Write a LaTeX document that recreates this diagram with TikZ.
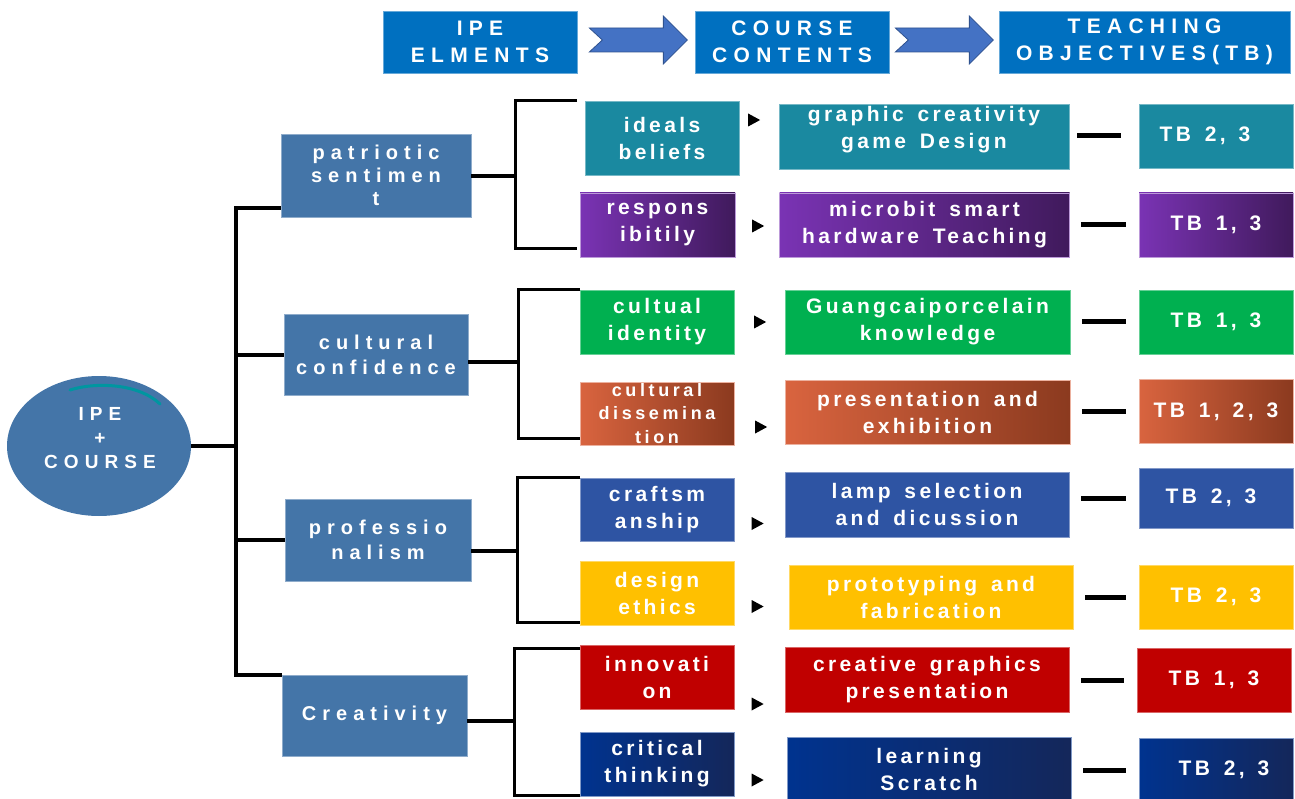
\documentclass[tikz,border=0pt]{standalone}
\usepackage{fontspec}
\setmainfont{Liberation Sans}
\newfontfamily\hdrfam{Liberation Sans}[LetterSpace=30]
\newfontfamily\lvonefam{Liberation Sans}[LetterSpace=30]
\newfontfamily\ellfam{Liberation Sans}[LetterSpace=32]
\newfontfamily\lvtwofam{Liberation Sans}[LetterSpace=16, WordSpace=1.5]
\newfontfamily\smallfam{Liberation Sans}[LetterSpace=20]
\newcommand\tbcomma{,\hspace{13pt}}
\usetikzlibrary{shapes.geometric}

\definecolor{hdrblue}{RGB}{0,112,192}
\definecolor{arrowblue}{RGB}{68,114,196}
\definecolor{arrowedge}{RGB}{47,82,143}
\definecolor{steel}{RGB}{68,117,168}
\definecolor{arcteal}{RGB}{0,150,160}
\definecolor{tealc}{RGB}{26,137,160}
\definecolor{purpL}{RGB}{122,51,180}
\definecolor{purpR}{RGB}{64,26,92}
\definecolor{greenc}{RGB}{0,176,80}
\definecolor{orgL}{RGB}{217,100,63}
\definecolor{orgR}{RGB}{139,58,31}
\definecolor{craftblue}{RGB}{46,84,163}
\definecolor{yellowc}{RGB}{255,192,0}
\definecolor{redc}{RGB}{192,0,0}
\definecolor{navyL}{RGB}{0,51,143}
\definecolor{navyR}{RGB}{20,39,90}

\tikzset{
  box/.style={rectangle, inner sep=0pt, text=white, align=center},
  flat/.style={box, fill=#1, draw=#1!60!white, line width=0.7pt},
  grad/.style 2 args={box, left color=#1, right color=#2, draw=#1!50!white, line width=0.7pt},
  sz/.style 2 args={minimum width=#1pt, minimum height=#2pt},
  hdrtext/.style={font=\hdrfam\bfseries\fontsize{21}{27}\selectfont},
  lvone/.style={flat=steel, font=\lvonefam\bfseries\fontsize{20}{25}\selectfont},
  lvtwo/.style={font=\lvtwofam\bfseries\fontsize{21}{27}\selectfont},
  harrow/.style={fill=arrowblue, draw=arrowedge, line width=0.8pt},
  trunk/.style={draw=black, line width=4pt},
  brk/.style={draw=black, line width=3pt},
  tri/.style={isosceles triangle, isosceles triangle stretches, fill=black,
    minimum width=13pt, minimum height=12pt, inner sep=0pt},
  tbline/.style={draw=black, line width=5pt, shorten <=12pt, shorten >=13pt},
}

\begin{document}
\begin{tikzpicture}[x=1pt, y=-1pt]
\useasboundingbox (0,0) rectangle (1295,799);

% header row
\node[flat=hdrblue, sz={194}{62}, hdrtext] (h1) at (480,42) {IPE\\ELMENTS};
\node[flat=hdrblue, sz={194}{62}, hdrtext] (h2) at (792,42) {COURSE\\CONTENTS};
\node[flat=hdrblue, sz={291}{62}, hdrtext] (h3) at (1144.5,42) {TEACHING\\OBJECTIVES(TB)};
\filldraw[harrow] ([xshift=12pt, yshift=2pt]h1.east) ++(0,-12) -- ++(74,0) -- ++(0,-12)
  -- ++(24,24) -- ++(-24,24) -- ++(0,-12) -- ++(-74,0) -- ++(13,-12) -- cycle;
\filldraw[harrow] ([xshift=6pt, yshift=2pt]h2.east) ++(0,-12) -- ++(74,0) -- ++(0,-12)
  -- ++(24,24) -- ++(-24,24) -- ++(0,-12) -- ++(-74,0) -- ++(13,-12) -- cycle;

% root
\node[ellipse, fill=steel, minimum width=184pt, minimum height=140pt, inner sep=0pt] (ell) at (99,446) {};
\draw[arcteal, line width=3pt, line cap=round] (70,390) .. controls (95,382) and (138,383) .. (160,404);
\node[text=white, align=center, font=\ellfam\bfseries\fontsize{19}{24}\selectfont] (elltxt) at (100,438) {IPE\\+\\COURSE};

% first level
\node[lvone, sz={190}{83}, font=\lvonefam\bfseries\fontsize{20}{23}\selectfont] (p1) at (376,175.5) {patriotic\\sentimen\\t};
\node[lvone, sz={184}{81}] (p2) at (376,354.5) {cultural\\confidence};
\node[lvone, sz={186}{82}] (p3) at (378,540) {professio\\nalism};
\node[lvone, sz={185}{81}] (p4) at (374.5,715.5) {Creativity};

\coordinate (tt) at (236,208);
\coordinate (tb) at (236,675);
\draw[trunk] (ell.east) -- (ell.east -| tt);
\draw[trunk] (p1.west |- tt) -- (tt) -- (tb) -- (p4.west |- tb);
\draw[trunk] (p2.west) -- (p2.west -| tt);
\draw[trunk] (p3.west) -- (p3.west -| tt);

% second level
\node[flat=tealc, sz={154}{74}, lvtwo] (l1) at (662,138) {ideals\\beliefs};
\node[grad={purpL}{purpR}, sz={155}{64}, lvtwo] (l2) at (657.5,225) {respons\\ibitily};
\node[flat=greenc, sz={154}{64}, lvtwo] (l3) at (657,322) {cultual\\identity};
\node[grad={orgL}{orgR}, sz={154}{63}, font=\smallfam\bfseries\fontsize{18}{23.5}\selectfont] (l4) at (657,413.5) {cultural\\dissemina\\tion};
\node[flat=craftblue, sz={154}{63}, lvtwo] (l5) at (657,509.5) {craftsm\\anship};
\node[flat=yellowc, sz={154}{64}, lvtwo] (l6) at (657,593.5) {design\\ethics};
\node[flat=redc, sz={154}{64}, lvtwo] (l7) at (657,677) {innovati\\on};
\node[grad={navyL}{navyR}, sz={154}{64}, lvtwo] (l8) at (657,764) {critical\\thinking};

% brackets from first to second level
\coordinate (b1) at (515,176);
\coordinate (g1t) at (577,101);
\coordinate (g1b) at (577,249);
\draw[trunk] (p1.east |- b1) -- (b1);
\draw[brk] (g1t) -| (b1) |- (g1b);

\coordinate (b2) at (518,362);
\coordinate (g2t) at (580,290);
\coordinate (g2b) at (580,438);
\draw[trunk] (p2.east |- b2) -- (b2);
\draw[brk] (g2t) -| (b2) |- (g2b);

\coordinate (b3) at (517,551);
\coordinate (g3t) at (580,477);
\coordinate (g3b) at (580,622);
\draw[trunk] (p3.east |- b3) -- (b3);
\draw[brk] (g3t) -| (b3) |- (g3b);

\coordinate (b4) at (514,721);
\coordinate (g4t) at (580,648);
\coordinate (g4b) at (580,795);
\draw[trunk] (p4.east |- b4) -- (b4);
\draw[brk] (g4t) -| (b4) |- (g4b);

% pointers
\node[tri] (m1) at (752,120) {};
\node[tri] (m2) at (756,226) {};
\node[tri] (m3) at (758,322) {};
\node[tri] (m4) at (759,427) {};
\node[tri] (m5) at (755.5,523.5) {};
\node[tri] (m6) at (755.5,606.5) {};
\node[tri] (m7) at (755.5,704) {};
\node[tri] (m8) at (755.5,780) {};

% course contents
\node[flat=tealc, sz={290}{65}, lvtwo] (c1) at (924,136.5) {graphic creativity\\game Design\\[-8pt]};
\node[grad={purpL}{purpR}, sz={290}{64}, lvtwo] (c2) at (924.5,225) {microbit smart\\hardware Teaching};
\node[flat=greenc, sz={285}{64}, lvtwo] (c3) at (927.5,322) {Guangcaiporcelain\\knowledge};
\node[grad={orgL}{orgR}, sz={285}{64}, lvtwo] (c4) at (927.5,412) {presentation and\\exhibition};
\node[flat=craftblue, sz={284}{65}, lvtwo] (c5) at (927,504.5) {lamp selection\\and dicussion};
\node[flat=yellowc, sz={284}{64}, lvtwo] (c6) at (931,597) {prototyping and\\fabrication};
\node[flat=redc, sz={284}{65}, lvtwo] (c7) at (927,679.5) {creative graphics\\presentation};
\node[grad={navyL}{navyR}, sz={284}{64}, lvtwo] (c8) at (929,769) {learning\\Scratch};

% teaching objectives
\node[flat=tealc, sz={154}{64}, lvtwo] (t1) at (1216,136) {\hspace*{-22pt}TB 2\tbcomma 3};
\node[grad={purpL}{purpR}, sz={154}{64}, lvtwo] (t2) at (1216,225) {TB 1\tbcomma 3};
\node[flat=greenc, sz={154}{64}, lvtwo] (t3) at (1216,322) {TB 1\tbcomma 3};
\node[grad={orgL}{orgR}, sz={154}{64}, lvtwo] (t4) at (1216,411.5) {TB 1\tbcomma 2\tbcomma 3};
\node[flat=craftblue, sz={154}{60}, lvtwo] (t5) at (1216,498) {\hspace*{-10pt}TB 2\tbcomma 3};
\node[flat=yellowc, sz={154}{64}, lvtwo] (t6) at (1216,597) {TB 2\tbcomma 3};
\node[flat=redc, sz={154}{64}, lvtwo] (t7) at (1214,680) {TB 1\tbcomma 3};
\node[grad={navyL}{navyR}, sz={154}{64}, lvtwo] (t8) at (1216,770) {\hspace*{16pt}TB 2\tbcomma 3};

\draw[tbline, shorten <=8pt, shorten >=18pt] (c1.east |- t1.west) -- (t1.west);
\draw[tbline, shorten <=11pt] (c2.east |- t2.west) -- (t2.west);
\draw[tbline] (c3.east |- t3.west) -- (t3.west);
\draw[tbline] (c4.east |- t4.west) -- (t4.west);
\draw[tbline] (c5.east |- t5.west) -- (t5.west);
\draw[tbline] (c6.east |- t6.west) -- (t6.west);
\draw[tbline] (c7.east |- t7.west) -- (t7.west);
\draw[tbline] (c8.east |- t8.west) -- (t8.west);
\end{tikzpicture}
\end{document}
